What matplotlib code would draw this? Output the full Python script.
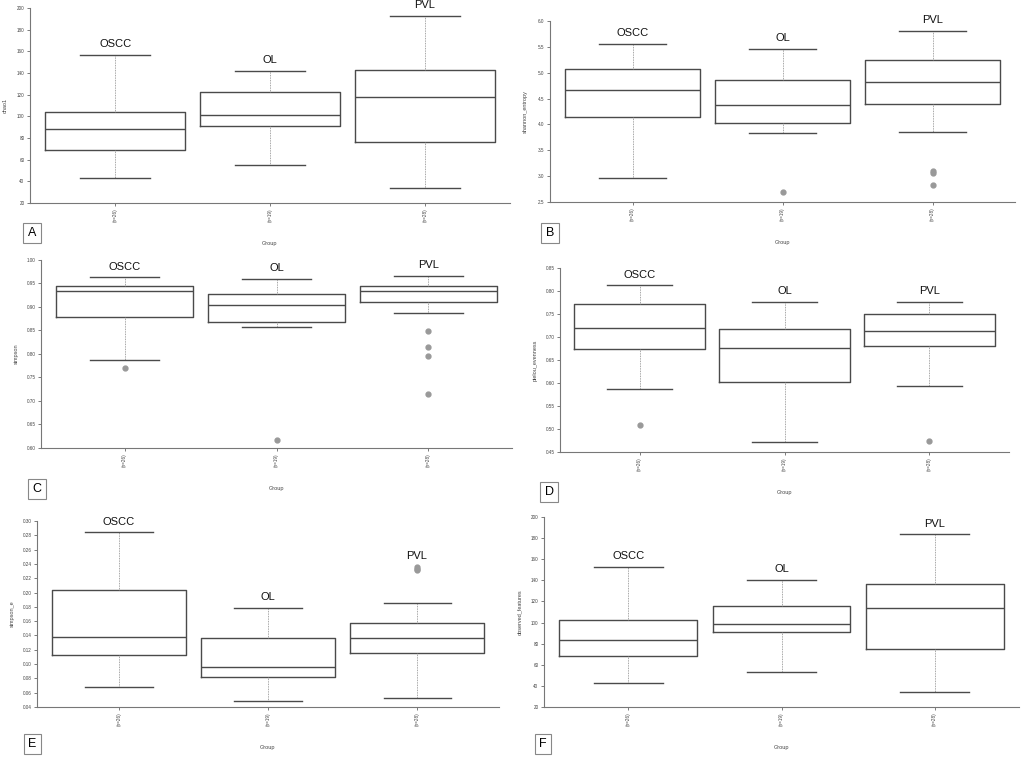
import matplotlib.pyplot as plt
import numpy as np

plt.rcParams['font.family'] = ['Liberation Sans', 'DejaVu Sans']

groups = ["OSCC", "OL", "PVL"]
n_labels = ["(n=26)", "(n=19)", "(n=28)"]

# five-number summaries per group: (whisker low, q1, median, q3, whisker high)
chao1_stats = [(43, 69, 88, 104, 157), (55, 91, 101, 122.5, 142), (34, 76, 117.5, 142.5, 193)]
chao1_fliers = [[], [], []]

shannon_stats = [(2.96, 4.15, 4.66, 5.07, 5.56), (3.83, 4.02, 4.37, 4.85, 5.46), (3.86, 4.39, 4.83, 5.24, 5.81)]
shannon_fliers = [[], [2.70], [3.10, 3.06, 2.83]]

simpson_stats = [(0.788, 0.878, 0.933, 0.945, 0.963), (0.857, 0.868, 0.905, 0.928, 0.960), (0.887, 0.910, 0.935, 0.944, 0.966)]
simpson_fliers = [[0.771], [0.616], [0.850, 0.815, 0.796, 0.715]]

pielou_stats = [(0.587, 0.673, 0.719, 0.771, 0.812), (0.472, 0.603, 0.677, 0.718, 0.776), (0.594, 0.680, 0.713, 0.751, 0.776)]
pielou_fliers = [[0.508], [], [0.475]]

simpson_e_stats = [(0.068, 0.112, 0.138, 0.204, 0.284), (0.048, 0.082, 0.096, 0.136, 0.179), (0.053, 0.115, 0.137, 0.157, 0.185)]
simpson_e_fliers = [[], [], [0.236, 0.233, 0.231]]

observed_stats = [(42.4, 68.3, 83.2, 102.4, 152.6), (53.5, 91, 98.6, 116, 140.6), (34.5, 75, 114, 137, 183.6)]
observed_fliers = [[], [], []]

W, H = 1027, 760
fig = plt.figure(figsize=(W / 100, H / 100), dpi=100)

# letter, ylabel, stats, fliers, yticks, tick format, axes rect (px: left, top, right, bottom), letter centre (px)
panels = [
    ("A", "chao1", chao1_stats, chao1_fliers, np.arange(20, 201, 20), "{:.0f}", (30, 8, 510, 203), (32, 233)),
    ("B", "shannon_entropy", shannon_stats, shannon_fliers, np.arange(2.5, 6.01, 0.5), "{:.1f}", (550, 21, 1015, 202), (550, 233)),
    ("C", "simpson", simpson_stats, simpson_fliers, np.arange(0.60, 1.001, 0.05), "{:.2f}", (41, 260, 512, 448), (37, 489)),
    ("D", "pielou_evenness", pielou_stats, pielou_fliers, np.arange(0.45, 0.851, 0.05), "{:.2f}", (560, 268, 1009, 452), (549, 492)),
    ("E", "simpson_e", simpson_e_stats, simpson_e_fliers, np.arange(0.04, 0.301, 0.02), "{:.2f}", (37, 521, 499, 707), (32, 744)),
    ("F", "observed_features", observed_stats, observed_fliers, np.arange(20, 201, 20), "{:.0f}", (544, 517, 1019, 707), (543, 744)),
]

edge = "#4a4a4a"
for letter, ylab, stats, fliers, yticks, fmt, rect, lpos in panels:
    l, t, r, b = rect
    ax = fig.add_axes([l / W, 1 - b / H, (r - l) / W, (b - t) / H])
    bstats = []
    for g, s, f in zip(groups, stats, fliers):
        bstats.append(dict(label=g, whislo=s[0], q1=s[1], med=s[2], q3=s[3], whishi=s[4], fliers=f))
    ax.bxp(bstats, positions=[1, 2, 3], widths=0.9,
           boxprops=dict(color=edge, linewidth=1.0),
           medianprops=dict(color=edge, linewidth=1.0),
           whiskerprops=dict(color="#888888", linewidth=0.6, linestyle=(0, (1, 1))),
           capprops=dict(color=edge, linewidth=1.0),
           flierprops=dict(marker="o", markerfacecolor="#999999", markeredgecolor="#999999", markersize=3.5))
    for i, (g, s, f) in enumerate(zip(groups, stats, fliers)):
        top = max([s[4]] + list(f))
        ax.annotate(g, (i + 1, top), xytext=(0, 4), textcoords="offset points",
                    ha="center", va="bottom", fontsize=8, color="#111111")
    ax.set_xlim(0.45, 3.55)
    ax.set_ylim(yticks[0], yticks[-1])
    ax.set_yticks(yticks)
    ax.set_yticklabels([fmt.format(v) for v in yticks])
    ax.set_xticks([1, 2, 3])
    ax.set_xticklabels(n_labels, rotation=90)
    ax.tick_params(labelsize=3.3, length=2, width=0.6, color="#666666", labelcolor="#444444", pad=2)
    for sp in ["top", "right"]:
        ax.spines[sp].set_visible(False)
    for sp in ["left", "bottom"]:
        ax.spines[sp].set_color("#777777")
        ax.spines[sp].set_linewidth(0.8)
    ax.set_ylabel(ylab, fontsize=4, color="#444444")
    ax.yaxis.set_label_coords(-22 / (r - l), 0.5)
    ax.set_xlabel("Group", fontsize=4, color="#444444")
    ax.xaxis.set_label_coords(0.5, -38 / (b - t))
    fig.text(lpos[0] / W, 1 - lpos[1] / H, letter, ha="center", va="center", fontsize=9,
             bbox=dict(boxstyle="square,pad=0.35", facecolor="white", edgecolor="#888888", linewidth=0.8))

fig.savefig("out.png", dpi=100)
